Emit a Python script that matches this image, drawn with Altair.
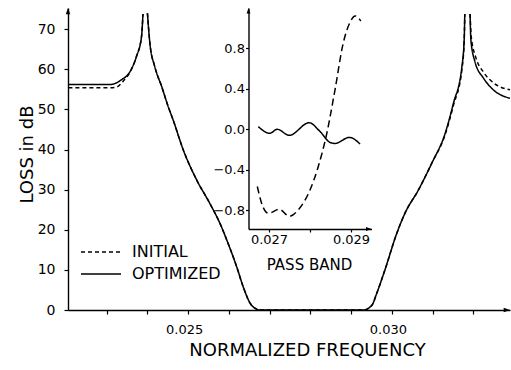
import altair as alt
import pandas as pd

FONT = "DejaVu Sans"

# ---------------- main curves (normalized frequency, loss in dB) ----------------
# segment A: left of first pole
opt_fA = [0.02206, 0.0226, 0.02308, 0.02336, 0.02357, 0.02373, 0.023855, 0.02389]
opt_lA = [56.2, 56.2, 56.2, 57.4, 59.4, 63.2, 68.2, 73.8]
ini_fA = [0.02206, 0.0226, 0.02308, 0.02325, 0.02340, 0.02357, 0.02373, 0.023855, 0.02389]
ini_lA = [55.4, 55.4, 55.4, 55.6, 57.0, 59.3, 63.2, 68.2, 73.8]

# segment B: between the two poles (stop band slope, pass band, slope)
opt_fB = [0.02400, 0.02406, 0.02418, 0.02435, 0.02451, 0.02463, 0.02488, 0.02521,
          0.02553, 0.02578, 0.02598, 0.02619, 0.02635, 0.02652, 0.02668, 0.02672,
          0.02800, 0.02930, 0.02951, 0.02963, 0.02983, 0.03012, 0.03032, 0.03065,
          0.03098, 0.03131, 0.03151, 0.03172, 0.031775, 0.03179]
opt_lB = [74.0, 66.5, 60.7, 55.7, 50.7, 47.4, 39.9, 32.4,
          26.6, 21.6, 16.6, 10.8, 5.8, 1.7, 0.2, 0.0,
          0.0, 0.0, 1.2, 4.2, 10.0, 19.1, 24.1, 29.9,
          36.6, 44.1, 51.5, 60.7, 67.3, 73.8]
ini_fB = opt_fB
ini_lB = [74.0, 66.5, 60.7, 55.7, 50.7, 47.4, 39.9, 32.4,
          26.6, 21.6, 16.6, 10.8, 5.8, 1.7, 0.2, 0.0,
          0.0, 0.0, 1.2, 4.2, 10.0, 19.1, 24.1, 29.9,
          36.6, 43.8, 51.0, 60.0, 67.0, 73.8]

# segment C: right of second pole
opt_fC = [0.03192, 0.03194, 0.03204, 0.03225, 0.03249, 0.03290]
opt_lC = [73.8, 67.3, 61.9, 57.8, 54.9, 52.8]
ini_fC = [0.03192, 0.03195, 0.03206, 0.03225, 0.03250, 0.03290]
ini_lC = [73.8, 68.0, 63.0, 59.3, 56.6, 54.9]

# ---------------- inset: pass band detail ----------------
opt_in_f = [0.02674, 0.02702, 0.02720, 0.027495, 0.02798, 0.02824, 0.02849, 0.02861, 0.02896, 0.02922]
opt_in_v = [0.026, -0.04, 0.0, -0.06, 0.065, -0.02, -0.13, -0.14, -0.08, -0.145]
ini_in_f = [0.026715, 0.02682, 0.026985, 0.02725, 0.027495, 0.027715, 0.0280, 0.0282,
            0.02841, 0.02861, 0.02881, 0.02898, 0.0291, 0.02924]
ini_in_v = [-0.565, -0.73, -0.83, -0.79, -0.86, -0.795, -0.6, -0.37,
            -0.04, 0.39, 0.85, 1.06, 1.12, 1.07]

series = ["INITIAL", "OPTIMIZED"]

main_x_ticks = [0.023, 0.024, 0.025, 0.026, 0.027, 0.028, 0.029, 0.030, 0.031, 0.032]
main_y_ticks = [0, 10, 20, 30, 40, 50, 60, 70]
inset_x_ticks = [0.027, 0.028, 0.029]
inset_y_ticks = [-0.8, -0.4, 0.0, 0.4, 0.8]

MAIN_X = [0.02205, 0.0329]
MAIN_Y = [0, 75.3]
IN_X = [0.0265, 0.0295]
IN_Y = [-0.985, 1.198]

W, H = 442, 302

rows = []
for name, segs in [("OPTIMIZED", [(opt_fA, opt_lA), (opt_fB, opt_lB), (opt_fC, opt_lC)]),
                   ("INITIAL", [(ini_fA, ini_lA), (ini_fB, ini_lB), (ini_fC, ini_lC)])]:
    for k, (fs, ls) in enumerate(segs):
        for f, l in zip(fs, ls):
            rows.append({"series": name, "seg": k, "f": f, "loss": l})
main_df = pd.DataFrame(rows)

rows = []
for name, fs, vs in [("OPTIMIZED", opt_in_f, opt_in_v), ("INITIAL", ini_in_f, ini_in_v)]:
    for f, v in zip(fs, vs):
        rows.append({"series": name, "f": f, "v": v})
inset_df = pd.DataFrame(rows)

xs_main = alt.Scale(domain=MAIN_X, nice=False, zero=False)
ys_main = alt.Scale(domain=MAIN_Y, nice=False, zero=False)
xs_in = alt.Scale(domain=IN_X, range=[180.5, 303.5], nice=False, zero=False)
ys_in = alt.Scale(domain=IN_Y, range=[221, 0], nice=False, zero=False)

main_lines = alt.Chart(main_df).mark_line(
    color="black", strokeWidth=1.5, interpolate="monotone"
).encode(
    x=alt.X("f:Q", scale=xs_main, axis=alt.Axis(
        values=main_x_ticks, tickSize=4, labelPadding=9, labelFontSize=13,
        labelOffset=-4,
        labelExpr="abs(datum.value-0.025)<1e-7 || abs(datum.value-0.03)<1e-7 ? format(datum.value, '.3f') : ''",
        title="NORMALIZED FREQUENCY", titleFontSize=18, titleX=239, titleY=45,
        titleBaseline="alphabetic", titleAnchor="middle", titleAlign="center")),
    y=alt.Y("loss:Q", scale=ys_main, axis=alt.Axis(
        values=main_y_ticks, tickSize=4, labelPadding=9, labelFontSize=14,
        title="LOSS in dB", titleFontSize=18, titleAngle=270, titleX=-36, titleY=146,
        titleBaseline="alphabetic", titleAlign="center")),
    strokeDash=alt.StrokeDash("series:N", scale=alt.Scale(domain=series, range=[[4, 3], [1, 0]]),
                              legend=alt.Legend(title=None, orient="none", legendX=12, legendY=234,
                                                symbolType="stroke", symbolSize=1600,
                                                symbolStrokeWidth=1.5, symbolStrokeColor="black",
                                                labelFontSize=16, labelOffset=10, rowPadding=2,
                                                clipHeight=20, padding=0)),
    detail="seg:N",
    order="f:Q",
)

arrow_up = "M0,0 L-0.35,1 L0.35,1 Z"
arrow_right = "M0,0 L-1,-0.35 L-1,0.35 Z"

main_arrow_df = pd.DataFrame({"f": [MAIN_X[0], MAIN_X[1]], "loss": [MAIN_Y[1], MAIN_Y[0]],
                              "shape": [arrow_up, arrow_right]})
main_arrows = alt.Chart(main_arrow_df).mark_point(
    filled=True, color="black", size=160, opacity=1
).encode(
    x=alt.X("f:Q", scale=xs_main),
    y=alt.Y("loss:Q", scale=ys_main),
    shape=alt.Shape("shape:N", scale=None),
)

main = alt.layer(main_lines, main_arrows)

inset_lines = alt.Chart(inset_df).mark_line(
    color="black", strokeWidth=1.5, interpolate="monotone"
).encode(
    x=alt.X("f:Q", scale=xs_in, axis=alt.Axis(
        orient="bottom", offset=-81, values=inset_x_ticks, tickSize=3, labelPadding=1,
        labelFontSize=13,
        labelExpr="abs(datum.value-0.028)<1e-7 ? '' : format(datum.value, '.3f')",
        title="PASS BAND", titleFontSize=15, titleX=241, titleY=40,
        titleBaseline="alphabetic", titleAlign="center", titleAnchor="middle")),
    y=alt.Y("v:Q", scale=ys_in, axis=alt.Axis(
        orient="left", offset=-180.5, values=inset_y_ticks, tickSize=3, labelPadding=1,
        labelFontSize=13, format=".1f", title=None)),
    strokeDash=alt.StrokeDash("series:N", scale=alt.Scale(domain=series, range=[[7, 4], [1, 0]]),
                              legend=None),
    order="f:Q",
)

inset_arrow_df = pd.DataFrame({"f": [IN_X[0], IN_X[1]], "v": [IN_Y[1], IN_Y[0]],
                               "shape": [arrow_up, arrow_right]})
inset_arrows = alt.Chart(inset_arrow_df).mark_point(
    filled=True, color="black", size=120, opacity=1
).encode(
    x=alt.X("f:Q", scale=xs_in),
    y=alt.Y("v:Q", scale=ys_in),
    shape=alt.Shape("shape:N", scale=None),
)

inset = alt.layer(inset_lines, inset_arrows)

chart = alt.layer(main, inset).resolve_scale(
    x="independent", y="independent", strokeDash="independent"
).properties(
    width=W, height=H,
    autosize=alt.AutoSizeParams(type="none"),
    padding={"left": 68, "top": 8, "right": 1, "bottom": 60},
    background="white",
).configure_view(stroke=None).configure_axis(
    grid=False, domainColor="black", tickColor="black", labelColor="black",
    titleColor="black", labelFont=FONT, titleFont=FONT, titleFontWeight="normal",
    domainWidth=1.4, tickWidth=1.2,
).configure_legend(labelFont=FONT, labelColor="black")

chart.save("out.html", embed_options={"renderer": "svg", "actions": False})
